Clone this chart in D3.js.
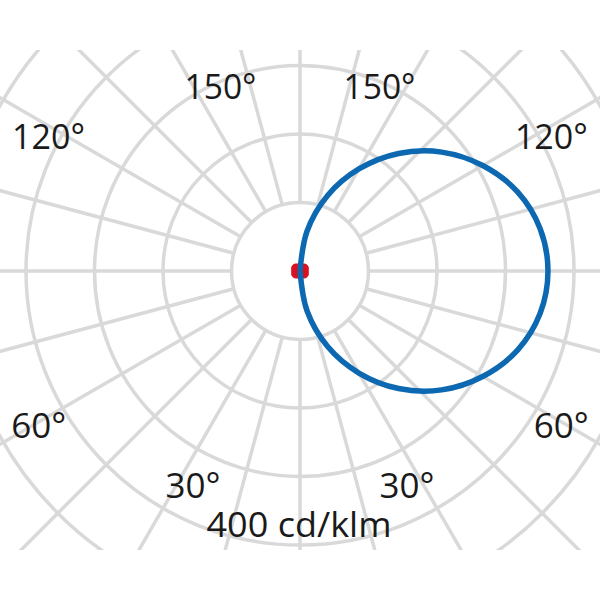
<!DOCTYPE html>
<html>
<head>
<meta charset="utf-8">
<script src="https://cdn.jsdelivr.net/npm/d3@7"></script>
<style>
  html, body { margin: 0; padding: 0; background: #ffffff; }
  svg { display: block; }
</style>
</head>
<body>
<svg id="chart" width="600" height="600"></svg>
<script>
// ---- data ----
const ringValues = [100, 200, 300, 400, 500];          // cd/klm
const spokeAngles = d3.range(0, 360, 15);               // degrees
const blueGamma = [0, 10, 20, 30, 40, 50, 60, 70, 80, 90, 100, 110, 120, 130, 140, 150, 160, 170, 180];
const blueValues = [0, 59, 117, 172, 224, 270, 308, 338, 356, 362, 356, 338, 308, 270, 224, 172, 117, 59, 0];
const redGamma = [0, 15, 30, 45, 60, 75, 90, 105, 120, 135, 150, 165, 180];
const redValues = [6.6, 6.8, 7.6, 9.3, 9.8, 8.8, 8.5, 8.8, 9.8, 9.3, 7.6, 6.8, 6.6];
const angleLabelValues = [150, 120, 60, 30];
const angleLabelText = ["150°", "120°", "60°", "30°"];
const unitLabel = "400 cd/klm";

// ---- layout ----
const W = 600, H = 600;
const cx = 300, cy = 271;
const r = d3.scaleLinear().domain([0, 100]).range([0, 68.5]);
const gridColor = "#d9d9d9";
const blue = "#0b68b1";
const red = "#d8101f";
// label placement (angle from nadir, radius in px) & ink widths
const labelLayout = {
  150: { at: 156.7, rad: 201, len: 72 },
  120: { at: 118.1, rad: 285, len: 73 },
  60:  { at: 59.4,  rad: 303.5, len: 55 },
  30:  { at: 26.5,  rad: 240, len: 55 }
};

const svg = d3.select("#chart");
svg.append("defs").append("clipPath").attr("id", "clip")
  .append("rect").attr("x", 0).attr("y", 50).attr("width", W).attr("height", 500);

const g = svg.append("g").attr("clip-path", "url(#clip)")
  .append("g").attr("transform", `translate(${cx},${cy})`);

// rings
g.selectAll("circle.ring").data(ringValues).join("circle")
  .attr("class", "ring")
  .attr("r", d => r(d))
  .attr("fill", "none")
  .attr("stroke", gridColor)
  .attr("stroke-width", 3.5);

// spokes (start at first ring)
const rad = d => d * Math.PI / 180;
g.selectAll("line.spoke").data(spokeAngles).join("line")
  .attr("class", "spoke")
  .attr("x1", d => r(ringValues[0]) * Math.sin(rad(d)))
  .attr("y1", d => r(ringValues[0]) * Math.cos(rad(d)))
  .attr("x2", d => r(900) * Math.sin(rad(d)))
  .attr("y2", d => r(900) * Math.cos(rad(d)))
  .attr("stroke", gridColor)
  .attr("stroke-width", 3.5);

// red curve (C0-C180 plane, both sides)
const redPts = redGamma.map((gm, i) => [Math.PI - rad(gm), r(redValues[i])])
  .concat(redGamma.slice().reverse().slice(1, -1).map((gm) => {
    const i = redGamma.indexOf(gm);
    return [Math.PI + rad(gm), r(redValues[i])];
  }));
g.append("path")
  .attr("d", d3.lineRadial().curve(d3.curveLinearClosed)(redPts))
  .attr("fill", red)
  .attr("stroke", red)
  .attr("stroke-width", 6)
  .attr("stroke-linejoin", "round");

// blue curve (C90 plane)
const bluePts = blueGamma.map((gm, i) => [Math.PI - rad(gm), r(blueValues[i])]);
g.append("path")
  .attr("d", d3.lineRadial().curve(d3.curveCatmullRom)(bluePts))
  .attr("fill", "none")
  .attr("stroke", blue)
  .attr("stroke-width", 5.5)
  .attr("stroke-linejoin", "round");

// angle labels
const font = "'Open Sans', 'Noto Sans', sans-serif";
const labels = [];
angleLabelValues.forEach((v, i) => {
  const L = labelLayout[v];
  [-1, 1].forEach(side => {
    labels.push({
      text: angleLabelText[i],
      x: cx + side * L.rad * Math.sin(rad(L.at)),
      y: cy - L.rad * Math.cos(rad(L.at)) * -1,
      len: L.len
    });
  });
});
svg.selectAll("text.ang").data(labels).join("text")
  .attr("class", "ang")
  .attr("x", d => d.x)
  .attr("y", d => d.y + 12.5)
  .attr("text-anchor", "middle")
  .attr("textLength", d => d.len)
  .attr("lengthAdjust", "spacingAndGlyphs")
  .attr("font-family", font)
  .attr("font-size", 35)
  .attr("fill", "#1a1a1a")
  .text(d => d.text);

svg.append("text")
  .attr("x", 299)
  .attr("y", 537)
  .attr("text-anchor", "middle")
  .attr("textLength", 185)
  .attr("lengthAdjust", "spacingAndGlyphs")
  .attr("font-family", font)
  .attr("font-size", 35)
  .attr("fill", "#1a1a1a")
  .text(unitLabel);
</script>
</body>
</html>
